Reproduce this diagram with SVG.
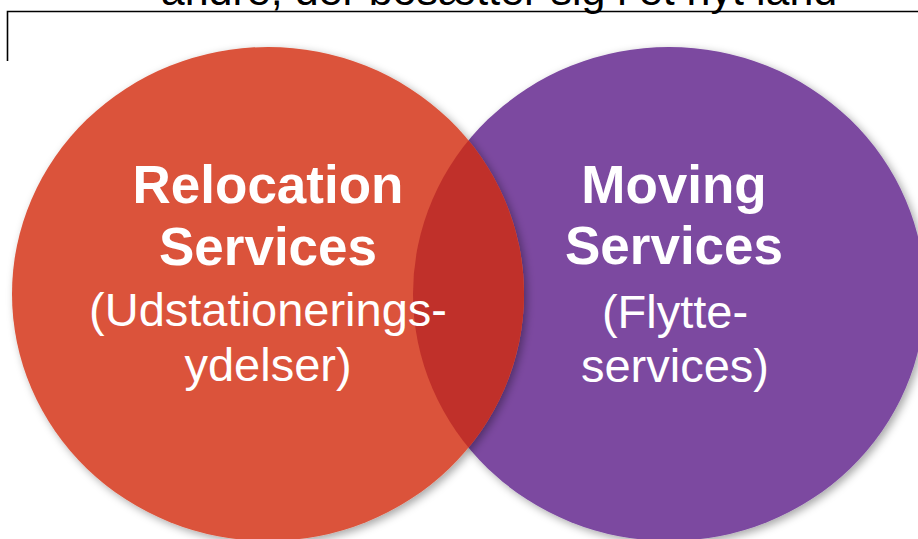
<svg xmlns="http://www.w3.org/2000/svg" width="918" height="539" viewBox="0 0 918 539">
  <style>
    .bold { font-family: "Liberation Sans", Arial, sans-serif; font-weight: bold; font-size: 53px; fill: #ffffff; text-anchor: middle; }
    .reg { font-family: "Liberation Sans", Arial, sans-serif; font-size: 47px; fill: #ffffff; text-anchor: middle; }
    .top { font-family: "Liberation Sans", Arial, sans-serif; font-size: 43px; fill: #000000; text-anchor: middle; }
  </style>
  <defs>
    <filter id="shadow" x="-10%" y="-10%" width="120%" height="120%">
      <feDropShadow dx="3" dy="3" stdDeviation="4" flood-color="#000000" flood-opacity="0.35"/>
    </filter>
    <clipPath id="leftClip">
      <ellipse cx="268" cy="294" rx="256" ry="247"/>
    </clipPath>
  </defs>
  <rect width="918" height="539" fill="#ffffff"/>
  <text class="top" x="499" y="5">andre, der bosætter sig i et nyt land</text>
  <path d="M7.5 61 V11.5 H918" fill="none" stroke="#000000" stroke-width="1.6"/>
  <g id="moving">
    <ellipse cx="669" cy="294" rx="256" ry="247" fill="#7B48A0" filter="url(#shadow)"/>
  </g>
  <g id="relocation">
    <ellipse cx="268" cy="294" rx="256" ry="247" fill="#DB533A" filter="url(#shadow)"/>
  </g>
  <g id="overlap">
    <ellipse cx="669" cy="294" rx="256" ry="247" fill="#C0302A" clip-path="url(#leftClip)"/>
  </g>
  <g id="relocation-label">
    <text class="bold" x="268" y="203">Relocation</text>
    <text class="bold" x="268" y="265">Services</text>
    <text class="reg" x="268" y="326">(Udstationerings-</text>
    <text class="reg" x="268" y="381">ydelser)</text>
  </g>
  <g id="moving-label">
    <text class="bold" x="674" y="203">Moving</text>
    <text class="bold" x="674" y="264">Services</text>
    <text class="reg" x="675" y="328">(Flytte-</text>
    <text class="reg" x="675" y="382">services)</text>
  </g>
</svg>
